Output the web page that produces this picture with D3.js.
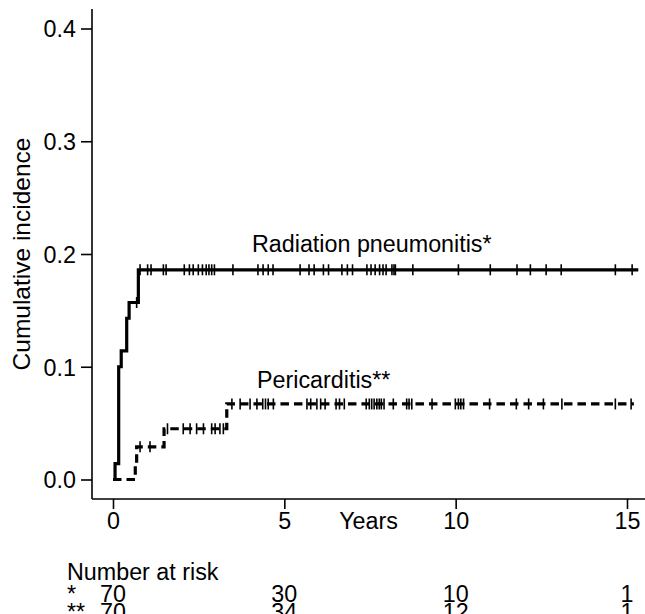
<!DOCTYPE html>
<html>
<head>
<meta charset="utf-8">
<script src="https://cdn.jsdelivr.net/npm/d3@7"></script>
<style>
  body { margin: 0; background: #fff; }
  text { font-family: "Liberation Sans", Arial, sans-serif; fill: #000; }
</style>
</head>
<body>
<div id="chart"></div>
<script>
// step curves (years, cumulative incidence)
var pneumTimes = [0, 0.06, 0.166, 0.24, 0.40, 0.47, 0.74, 15.33];
var pneumValues = [0, 0.014, 0.100, 0.114, 0.143, 0.157, 0.186, 0.186];
var periTimes = [0, 0.65, 0.69, 1.49, 3.32, 15.2];
var periValues = [0, 0.014, 0.029, 0.045, 0.067, 0.067];

// censored observations (years)
var pneumCensor = [0.69, 0.79, 1.01, 1.11, 1.47, 1.55, 2.08, 2.23, 2.34, 2.49, 2.61, 2.72, 2.80,
  2.88, 2.96, 3.50, 4.23, 4.38, 4.53, 4.67, 5.46, 5.72, 5.87, 6.14, 6.29, 6.68, 6.84, 6.99,
  7.41, 7.53, 7.65, 7.78, 7.88, 7.97, 8.14, 8.20, 8.24, 8.75, 10.08, 11.01, 11.79, 12.18,
  12.64, 13.08, 14.66, 15.15];
var periCensor = [0.79, 1.08, 1.59, 2.05, 2.25, 2.44, 2.64, 2.88, 2.98, 3.12, 3.22, 3.47, 3.71,
  4.00, 4.20, 4.37, 4.45, 4.53, 4.68, 5.66, 5.77, 5.95, 6.06, 6.19, 6.51, 6.61, 6.75, 7.39,
  7.48, 7.55, 7.62, 7.70, 7.77, 7.83, 7.91, 8.18, 8.57, 8.64, 8.72, 9.31, 9.99, 10.08, 10.15,
  10.23, 10.99, 11.77, 12.13, 12.56, 13.10, 14.66, 15.12];

var xTicks = [0, 5, 10, 15];
var yTicks = [0, 0.1, 0.2, 0.3, 0.4];
var riskLabels = ["*", "**"];
var riskPneum = [70, 30, 10, 1];
var riskPeri = [70, 34, 12, 1];

var svgWidth = 645;
var svgHeight = 614;
var fontSize = 23.3;

var svg = d3.select("#chart")
  .append("svg")
  .attr("width", svgWidth)
  .attr("height", svgHeight);

var plotLeft = 92, plotTop = 9, plotBottom = 499, plotRight = 645;

var xScale = d3.scaleLinear().domain([0, 15]).range([113, 627]);
var yScale = d3.scaleLinear().domain([0, 0.4]).range([479.5, 28.5]);

// text placed at its baseline
function label(parent, x, y, str, anchor) {
  return parent.append("text")
    .attr("x", x)
    .attr("y", y)
    .attr("text-anchor", anchor || "start")
    .attr("font-size", fontSize)
    .text(str);
}

// axes lines
svg.append("line")
  .attr("x1", plotLeft).attr("x2", plotLeft)
  .attr("y1", plotTop).attr("y2", plotBottom)
  .attr("stroke", "#000").attr("stroke-width", 1.6);
svg.append("line")
  .attr("x1", plotLeft).attr("x2", plotRight)
  .attr("y1", plotBottom).attr("y2", plotBottom)
  .attr("stroke", "#000").attr("stroke-width", 1.6);

// y axis
var leftAxis = d3.axisLeft(yScale)
  .tickValues(yTicks)
  .tickFormat(d3.format(".1f"))
  .tickSize(11);
var yAxisG = svg.append("g")
  .attr("transform", `translate(${plotLeft}, 0)`)
  .call(leftAxis);
yAxisG.select(".domain").remove();
yAxisG.selectAll("line").attr("stroke", "#000").attr("stroke-width", 1.6);
yAxisG.selectAll("text").remove();
yAxisG.selectAll(".tick").each(function(d) {
  label(d3.select(this), -16, 8.3, d3.format(".1f")(d), "end");
});

// x axis
var bottomAxis = d3.axisBottom(xScale)
  .tickValues(xTicks)
  .tickSize(10);
var xAxisG = svg.append("g")
  .attr("transform", `translate(0, ${plotBottom})`)
  .call(bottomAxis);
xAxisG.select(".domain").remove();
xAxisG.selectAll("line").attr("stroke", "#000").attr("stroke-width", 1.6);
xAxisG.selectAll("text").remove();
xAxisG.selectAll(".tick").each(function(d) {
  label(d3.select(this), 0, 30, d, "middle");
});

// axis titles
svg.append("text")
  .attr("transform", `translate(30, ${(plotTop + plotBottom) / 2}) rotate(-90)`)
  .attr("text-anchor", "middle")
  .attr("font-size", 24.5)
  .text("Cumulative incidence");

label(svg, (plotLeft + plotRight) / 2, 529, "Years", "middle");

// step lines
var stepLine = d3.line()
  .x(d => xScale(d[0]))
  .y(d => yScale(d[1]))
  .curve(d3.curveStepAfter);

var pneumData = pneumTimes.map((t, i) => [t, pneumValues[i]]);
var periData = periTimes.map((t, i) => [t, periValues[i]]);

svg.append("path")
  .datum(pneumData)
  .attr("d", stepLine)
  .attr("fill", "none")
  .attr("stroke", "#000")
  .attr("stroke-width", 3.2);

svg.append("path")
  .datum(periData)
  .attr("d", stepLine)
  .attr("fill", "none")
  .attr("stroke", "#000")
  .attr("stroke-width", 3.2)
  .attr("stroke-dasharray", "8.5,5");

// value of a step function at time t
function stepValue(times, values, t) {
  var v = values[0];
  for (var i = 0; i < times.length; i++) {
    if (times[i] <= t) v = values[i];
  }
  return v;
}

function drawCensor(list, times, values) {
  svg.append("g").selectAll("line")
    .data(list)
    .enter()
    .append("line")
    .attr("x1", d => xScale(d))
    .attr("x2", d => xScale(d))
    .attr("y1", d => yScale(stepValue(times, values, d)) - 5.5)
    .attr("y2", d => yScale(stepValue(times, values, d)) + 5.5)
    .attr("stroke", "#000")
    .attr("stroke-width", 1.6);
}
drawCensor(pneumCensor, pneumTimes, pneumValues);
drawCensor(periCensor, periTimes, periValues);

// curve labels
label(svg, 252, yScale(0.186) - 18, "Radiation pneumonitis*");
label(svg, 257, yScale(0.067) - 16, "Pericarditis**");

// number at risk table
label(svg, 67, 580, "Number at risk");

[riskPneum, riskPeri].forEach(function(row, r) {
  var yPos = 602 + r * 17.5;
  label(svg, 67, yPos, riskLabels[r]);
  var g = svg.append("g");
  row.forEach(function(d, i) {
    label(g, xScale(xTicks[i]), yPos, d, "middle");
  });
});
</script>
</body>
</html>
